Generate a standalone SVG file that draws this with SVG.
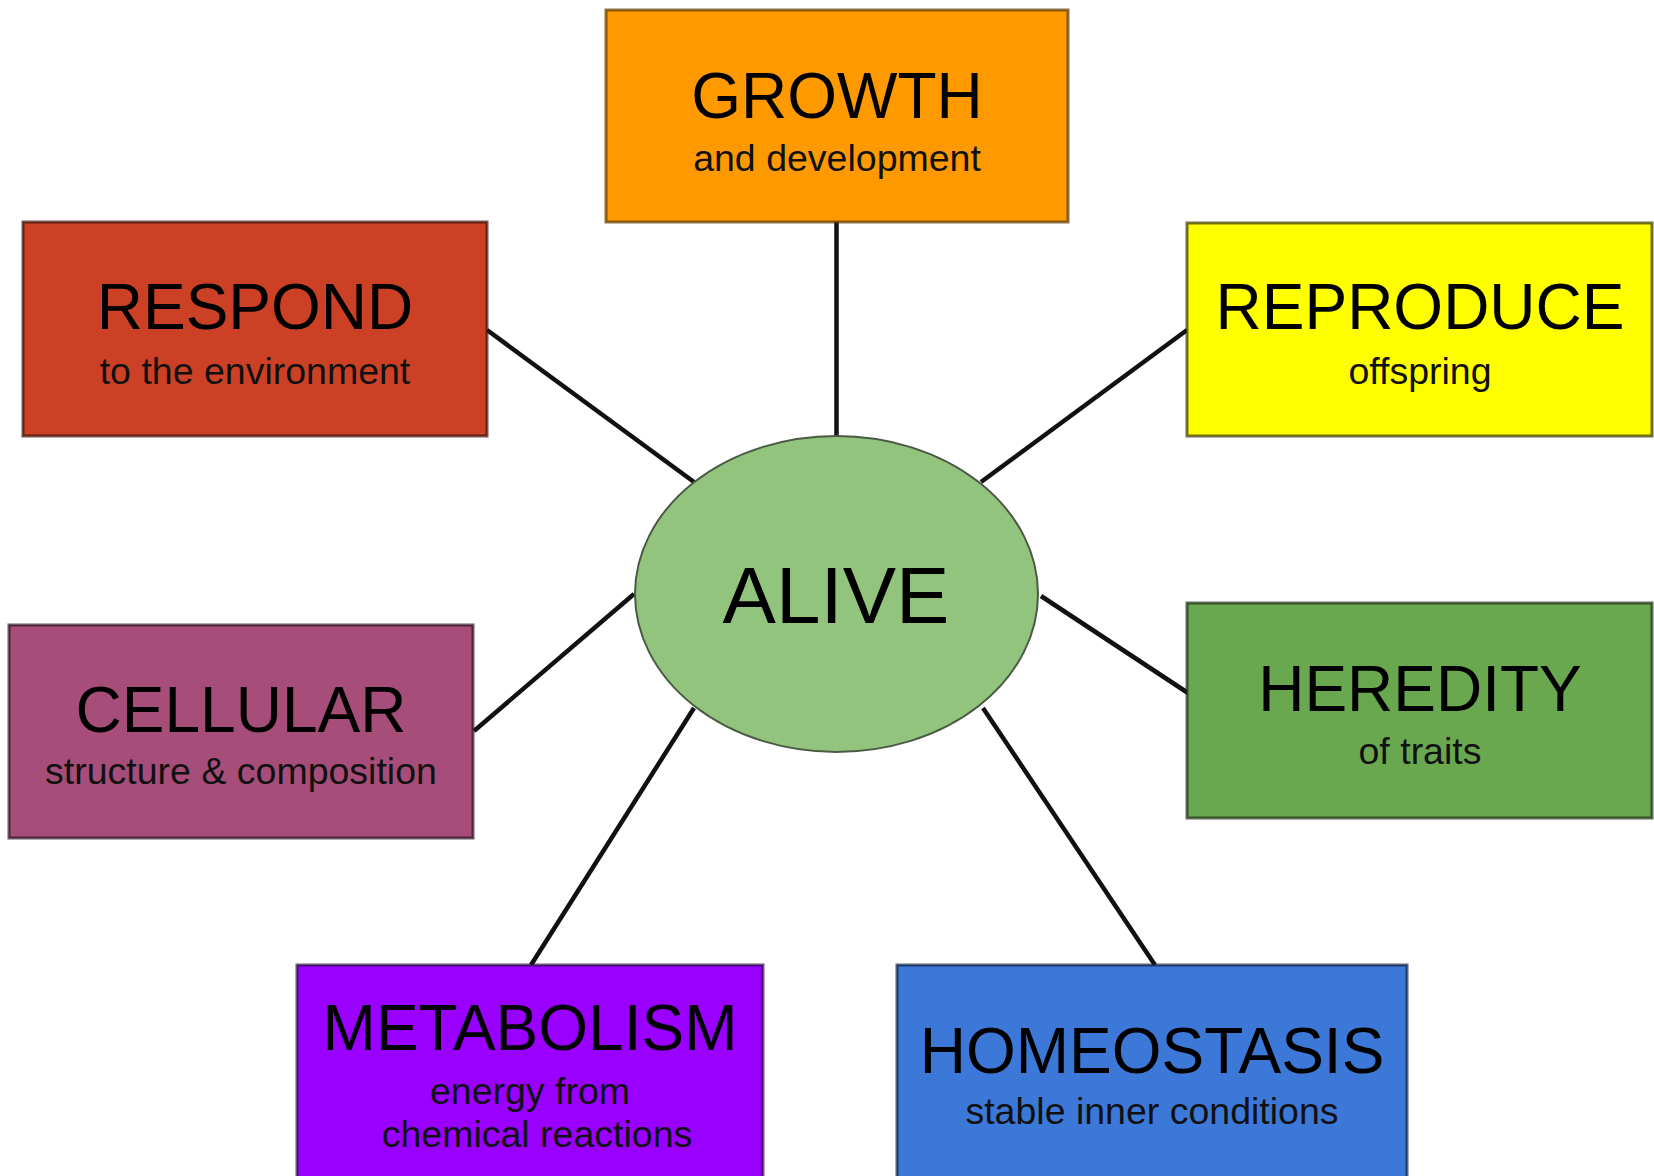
<svg xmlns="http://www.w3.org/2000/svg" width="1654" height="1176" viewBox="0 0 1654 1176">
<style>
.box{stroke-width:3;stroke-opacity:0.7}
.t{font-family:"Liberation Sans",Arial,sans-serif;font-size:64px;fill:#000;text-anchor:middle}
.s{font-family:"Liberation Sans",Arial,sans-serif;font-size:37.5px;fill:#111;text-anchor:middle}
.c{stroke:#111;stroke-width:4.5;fill:none}
</style>
<rect width="1654" height="1176" fill="#fff"/>
<g id="connectors">
<line class="c" x1="836.5" y1="222" x2="836.5" y2="437"/>
<line class="c" x1="487" y1="330" x2="694" y2="482"/>
<line class="c" x1="1187" y1="330" x2="981" y2="482"/>
<line class="c" x1="474" y1="731" x2="634" y2="594"/>
<line class="c" x1="1188" y1="693" x2="1041" y2="596"/>
<line class="c" x1="531" y1="965" x2="694" y2="708"/>
<line class="c" x1="1155" y1="965" x2="983" y2="708"/>
</g>
<g id="growth">
<rect class="box" x="606" y="10" width="462" height="212" fill="#ff9900" stroke="#5a3600"/>
<text class="t" x="837" y="118">GROWTH</text>
<text class="s" x="837" y="171">and development</text>
</g>
<g id="respond">
<rect class="box" x="23" y="222" width="464" height="214" fill="#cc4125" stroke="#3a0f08"/>
<text class="t" x="255" y="329">RESPOND</text>
<text class="s" x="255" y="384">to the environment</text>
</g>
<g id="reproduce">
<rect class="box" x="1187" y="223" width="465" height="213" fill="#ffff00" stroke="#333300"/>
<text class="t" x="1420" y="329">REPRODUCE</text>
<text class="s" x="1420" y="384">offspring</text>
</g>
<g id="cellular">
<rect class="box" x="9" y="625" width="464" height="213" fill="#a64d79" stroke="#2a0f1e"/>
<text class="t" x="241" y="732">CELLULAR</text>
<text class="s" x="241" y="784">structure &amp; composition</text>
</g>
<g id="heredity">
<rect class="box" x="1187" y="603" width="465" height="215" fill="#6aa84f" stroke="#1c2e14"/>
<text class="t" x="1420" y="711">HEREDITY</text>
<text class="s" x="1420" y="764">of traits</text>
</g>
<g id="metabolism">
<rect class="box" x="297" y="965" width="466" height="230" fill="#9900ff" stroke="#2a1040"/>
<text class="t" x="530" y="1050">METABOLISM</text>
<text class="s" x="530" y="1104">energy from</text>
<text class="s" x="537" y="1147">chemical reactions</text>
</g>
<g id="homeostasis">
<rect class="box" x="897" y="965" width="510" height="230" fill="#3c78d8" stroke="#0e1f3a"/>
<text class="t" x="1152" y="1073">HOMEOSTASIS</text>
<text class="s" x="1152" y="1124">stable inner conditions</text>
</g>
<g id="alive">
<ellipse cx="836.5" cy="594" rx="201.5" ry="158" fill="#93c47d" stroke="#4a5a44" stroke-width="2"/>
<text class="t" x="836" y="623" style="font-size:80px">ALIVE</text>
</g>
</svg>
